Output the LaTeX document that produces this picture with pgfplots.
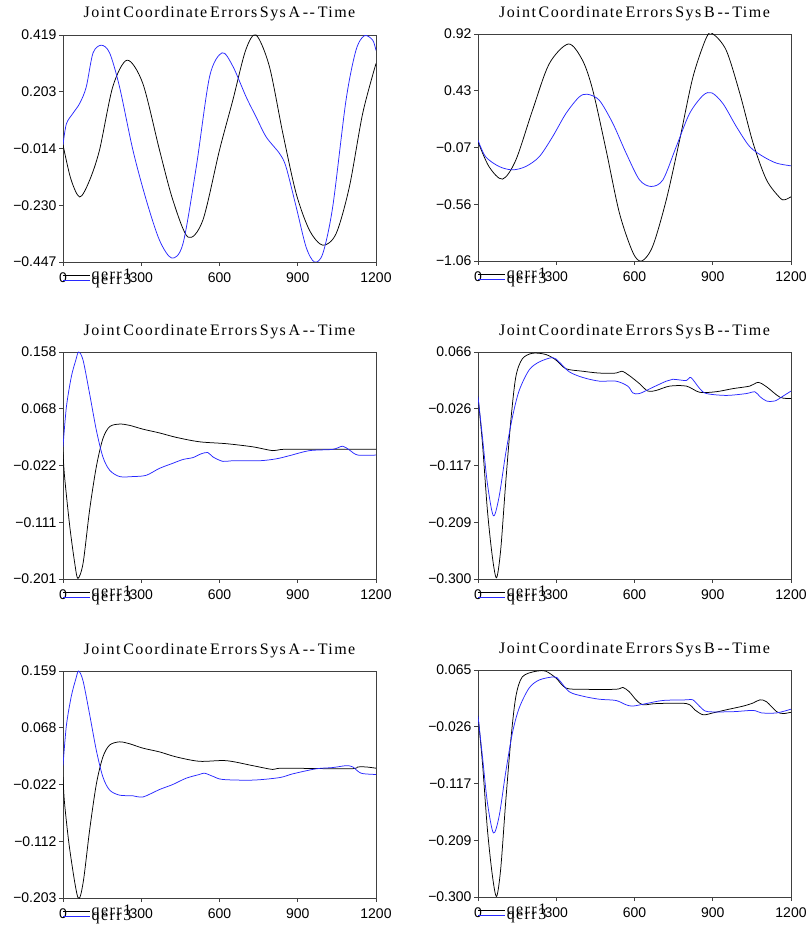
\documentclass[border=0pt]{standalone}
\usepackage{pgfplots}
\pgfplotsset{compat=1.18}
\usepackage{fontspec}
\setmainfont{Liberation Serif}
\newfontfamily\sansf{Liberation Sans}
\newfontfamily\titf[LetterSpace=9, WordSpace=0.5]{Liberation Serif}
\definecolor{qblue}{RGB}{40,40,255}
\pgfplotsset{
  myax/.style={
    scale only axis, width=313pt, height=227pt, anchor=south west,
    xmin=0, xmax=1200, xtick={0,300,600,900,1200}, xticklabels={0,300,600,900,1200},
    tick align=outside, xtick pos=left, ytick pos=left, major tick length=4pt,
    axis line style={black!75, line width=0.6pt}, tick style={black!75, line width=0.6pt},
    ticklabel style={font=\sansf\fontsize{14}{14}\selectfont},
    xticklabel style={yshift=-3pt},
    yticklabel style={xshift=1pt},
    title style={font=\titf\fontsize{16}{16}\selectfont, at={(0.5,1)}, anchor=south, yshift=4pt},
    legend style={at={(0,0)}, anchor=north west, draw=none, fill=none, inner sep=0pt, outer sep=0pt,
      yshift=-6pt, row sep=-9pt, font=\titf\fontsize{16}{16}\selectfont,
      nodes={inner sep=1pt}},
    legend cell align=left,
    legend image code/.code={\draw[##1] (0pt,0pt) -- (27pt,0pt);},
    every axis plot/.append style={line width=0.75pt, smooth, tension=0.5, mark=none},
  },
  q1/.style={black},
  q3/.style={qblue},
}
\begin{document}
\begin{tikzpicture}
\path (0,0) rectangle (809pt,929pt);
% ---------- A1
\begin{axis}[myax, at={(63pt,667pt)}, ymin=-0.447, ymax=0.419,
  ytick={-0.447,-0.2305,-0.014,0.2025,0.419},
  yticklabels={−0.447,−0.230,−0.014,0.203,0.419},
  title={Joint Coordinate Errors Sys A -{}- Time}]
\addplot[q1] coordinates {(0,0.0)(30,-0.13)(64,-0.199)(100,-0.14)(140,-0.02)(191,0.222)(246,0.323)(306,0.234)(370,-0.02)(421,-0.21)(479,-0.352)(536,-0.288)(600,-0.02)(651,0.17)(700,0.36)(740,0.419)(791,0.30)(843,0.043)(894,-0.186)(945,-0.326)(996,-0.383)(1047,-0.339)(1098,-0.16)(1149,0.12)(1200,0.31)};
\addplot[q3] coordinates {(0,0.0)(13,0.08)(38,0.12)(64,0.158)(89,0.22)(115,0.35)(147,0.38)(179,0.35)(217,0.22)(268,-0.02)(319,-0.21)(370,-0.364)(417,-0.432)(460,-0.377)(511,-0.084)(562,0.26)(610,0.351)(651,0.30)(702,0.183)(740,0.107)(779,0.03)(830,-0.033)(855,-0.084)(894,-0.237)(932,-0.39)(964,-0.447)(996,-0.415)(1034,-0.237)(1085,0.17)(1123,0.36)(1155,0.416)(1187,0.40)(1200,0.36)};
\legend{qerr1,qerr3}
\end{axis}
% ---------- B1
\begin{axis}[myax, at={(478pt,668pt)}, ymin=-1.06, ymax=0.92,
  ytick={-1.06,-0.565,-0.07,0.425,0.92},
  yticklabels={−1.06,−0.56,−0.07,0.43,0.92},
  title={Joint Coordinate Errors Sys B -{}- Time}]
\addplot[q1] coordinates {(0,-0.02)(42,-0.236)(94,-0.346)(145,-0.18)(209,0.255)(273,0.66)(347,0.833)(401,0.689)(440,0.43)(491,-0.091)(542,-0.64)(594,-0.987)(628,-1.06)(670,-0.93)(722,-0.525)(773,-0.005)(824,0.544)(876,0.891)(901,0.92)(952,0.776)(1004,0.4)(1055,-0.034)(1106,-0.352)(1158,-0.51)(1177,-0.525)(1200,-0.50)};
\addplot[q3] coordinates {(0,-0.005)(29,-0.15)(81,-0.236)(132,-0.265)(183,-0.236)(235,-0.15)(286,0.024)(337,0.226)(388,0.371)(420,0.394)(465,0.342)(517,0.14)(568,-0.12)(619,-0.352)(664,-0.41)(709,-0.352)(760,-0.063)(811,0.226)(863,0.385)(897,0.406)(940,0.31)(991,0.11)(1042,-0.063)(1094,-0.15)(1145,-0.207)(1200,-0.23)};
\legend{qerr1,qerr3}
\end{axis}
% ---------- A2
\begin{axis}[myax, at={(63pt,350pt)}, ymin=-0.201, ymax=0.158,
  ytick={-0.201,-0.11125,-0.0215,0.06825,0.158},
  yticklabels={−0.201,−0.111,−0.022,0.068,0.158},
  title={Joint Coordinate Errors Sys A -{}- Time}]
\addplot[q1] coordinates {(0,0.0)(6,-0.039)(26,-0.118)(45,-0.176)(57,-0.2)(77,-0.176)(102,-0.092)(128,-0.023)(153,0.021)(179,0.04)(217,0.044)(255,0.042)(306,0.036)(370,0.03)(434,0.023)(523,0.016)(626,0.013)(728,0.008)(804,0.002)(843,0.004)(970,0.004)(1200,0.004)};
\addplot[q3] coordinates {(0,0.008)(13,0.071)(32,0.119)(49,0.145)(60,0.158)(77,0.145)(102,0.092)(128,0.034)(153,-0.008)(179,-0.029)(217,-0.039)(268,-0.039)(319,-0.037)(370,-0.026)(421,-0.018)(460,-0.012)(498,-0.009)(530,-0.003)(555,-0.001)(575,-0.008)(613,-0.015)(651,-0.014)(753,-0.014)(817,-0.011)(868,-0.006)(945,0.002)(1034,0.004)(1072,0.009)(1098,0.003)(1130,-0.005)(1200,-0.005)};
\legend{qerr1,qerr3}
\end{axis}
% ---------- B2
\begin{axis}[myax, at={(478pt,350pt)}, ymin=-0.300, ymax=0.066,
  ytick={-0.3,-0.2085,-0.117,-0.0255,0.066},
  yticklabels={−0.300,−0.209,−0.117,−0.026,0.066},
  title={Joint Coordinate Errors Sys B -{}- Time}]
\addplot[q1] coordinates {(0,-0.006)(17,-0.081)(36,-0.189)(55,-0.264)(71,-0.298)(87,-0.253)(106,-0.146)(126,-0.044)(145,0.026)(170,0.055)(209,0.064)(260,0.062)(299,0.053)(337,0.039)(401,0.035)(465,0.032)(529,0.032)(552,0.035)(580,0.028)(619,0.015)(651,0.003)(683,0.004)(735,0.011)(799,0.011)(850,0.001)(914,0.002)(978,0.007)(1042,0.011)(1074,0.017)(1106,0.01)(1158,-0.007)(1200,-0.009)};
\addplot[q3] coordinates {(0,-0.006)(17,-0.071)(36,-0.146)(59,-0.198)(81,-0.167)(106,-0.098)(132,-0.039)(158,0.004)(196,0.037)(235,0.05)(286,0.057)(311,0.05)(350,0.034)(401,0.025)(465,0.019)(529,0.019)(574,0.011)(594,0.0)(619,-0.001)(670,0.009)(722,0.019)(747,0.022)(799,0.02)(816,0.025)(850,0.007)(876,-0.001)(952,-0.004)(1029,-0.001)(1061,0.002)(1081,-0.006)(1106,-0.013)(1138,-0.013)(1170,-0.005)(1200,0.003)};
\legend{qerr1,qerr3}
\end{axis}
% ---------- A3
\begin{axis}[myax, at={(63pt,31pt)}, ymin=-0.203, ymax=0.159,
  ytick={-0.203,-0.1125,-0.022,0.0685,0.159},
  yticklabels={−0.203,−0.112,−0.022,0.068,0.159},
  title={Joint Coordinate Errors Sys A -{}- Time}]
\addplot[q1] coordinates {(0,-0.010)(6,-0.052)(26,-0.126)(57,-0.202)(77,-0.179)(102,-0.095)(128,-0.021)(153,0.022)(179,0.041)(217,0.046)(255,0.043)(306,0.036)(370,0.03)(434,0.022)(523,0.015)(626,0.016)(728,0.008)(804,0.002)(843,0.004)(1098,0.003)(1130,0.006)(1162,0.006)(1200,0.004)};
\addplot[q3] coordinates {(0,0.008)(13,0.072)(32,0.119)(49,0.146)(60,0.159)(77,0.143)(102,0.09)(128,0.032)(153,-0.010)(179,-0.031)(217,-0.039)(268,-0.040)(306,-0.042)(370,-0.03)(421,-0.022)(472,-0.012)(523,-0.006)(543,-0.004)(575,-0.009)(613,-0.014)(728,-0.015)(830,-0.011)(881,-0.005)(970,0.003)(1034,0.005)(1085,0.008)(1111,0.006)(1143,-0.004)(1200,-0.006)};
\legend{qerr1,qerr3}
\end{axis}
% ---------- B3
\begin{axis}[myax, at={(478pt,32pt)}, ymin=-0.300, ymax=0.065,
  ytick={-0.3,-0.20875,-0.1175,-0.02625,0.065},
  yticklabels={−0.300,−0.209,−0.117,−0.026,0.065},
  title={Joint Coordinate Errors Sys B -{}- Time}]
\addplot[q1] coordinates {(0,-0.009)(17,-0.084)(36,-0.191)(55,-0.265)(71,-0.299)(87,-0.255)(106,-0.148)(126,-0.047)(145,0.022)(170,0.054)(222,0.063)(260,0.063)(299,0.052)(337,0.036)(401,0.034)(529,0.034)(555,0.037)(580,0.03)(606,0.017)(632,0.009)(683,0.011)(799,0.011)(831,0.001)(863,-0.007)(901,-0.004)(952,0.001)(1017,0.007)(1055,0.012)(1081,0.017)(1106,0.014)(1145,-0.002)(1170,-0.005)(1200,-0.003)};
\addplot[q3] coordinates {(0,-0.009)(17,-0.074)(36,-0.148)(59,-0.197)(81,-0.170)(106,-0.1)(132,-0.036)(158,0.004)(196,0.036)(235,0.049)(292,0.054)(311,0.049)(350,0.03)(401,0.023)(465,0.018)(529,0.016)(568,0.009)(594,0.007)(645,0.011)(709,0.016)(799,0.017)(824,0.017)(856,0.004)(882,-0.002)(978,-0.002)(1055,0.0)(1087,-0.004)(1145,-0.004)(1200,0.002)};
\legend{qerr1,qerr3}
\end{axis}
\end{tikzpicture}
\end{document}
